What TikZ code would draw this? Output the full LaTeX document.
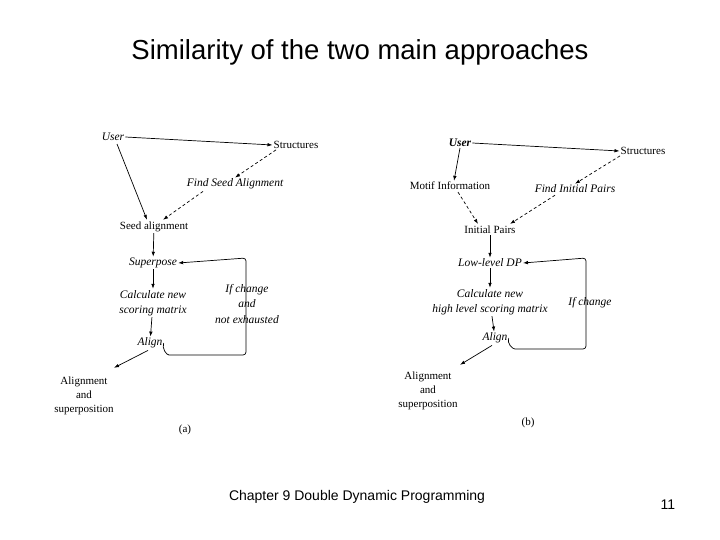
\documentclass[tikz,border=0pt]{standalone}
\usepackage{fontspec}
\setmainfont{Liberation Serif}
\newfontfamily\arialf{Liberation Sans}
\usetikzlibrary{arrows.meta,calc}
\begin{document}
\begin{tikzpicture}[x=1pt,y=-1pt,
  lbl/.style={font=\fontsize{11}{14}\selectfont, inner sep=1pt, align=center},
  ilbl/.style={lbl, font=\fontsize{11.5}{15.5}\selectfont\itshape},
  arr/.style={draw, line width=0.7pt, -{Latex[length=5pt,width=3.5pt]}},
  darr/.style={arr, dash pattern=on 3pt off 2.5pt},
  loopl/.style={draw, line width=0.7pt, rounded corners=3pt}]
\useasboundingbox (0,0) rectangle (720,540);
\node[font=\arialf\fontsize{27.5}{30}\selectfont] (title) at (360,52) {Similarity of the two main approaches};

% ---------- panel (a)
\node[ilbl] (aU) at (113,137) {User};
\node[lbl] (aS) at (296,145) {Structures};
\node[ilbl] (aF) at (235,184) {Find Seed Alignment};
\node[lbl] (aSA) at (154,227) {Seed alignment};
\node[ilbl] (aSP) at (153,263) {Superpose};
\node[ilbl] (aC) at (153,303) {Calculate new\\scoring matrix};
\node[ilbl] (aA) at (150,343) {Align};
\node[ilbl] (aIf) at (247,304) {If change\\and\\not exhausted};
\node[lbl] (aR) at (84,396) {Alignment\\and\\superposition};
\node[lbl] (aLab) at (185,430) {(a)};
\coordinate (aL0) at (172,355);
\coordinate (aL1) at (246,355);
\coordinate (aL2) at (246,258);

\draw[arr] (aU.east) -- (aS.west);
\draw[arr] ($(aU.south)+(4,2)$) -- ($(aSA.north)+(-7,-1)$);
\draw[darr] ($(aS.south)+(-20,0)$) -- (aF.north);
\draw[darr] ($(aF.south)+(-32,1)$) -- ($(aSA.north)+(9,-1)$);
\draw[arr] (aSA) -- (aSP);
\draw[arr] (aSP) -- (aC);
\draw[arr] (aC) -- (aA);
\draw[loopl, -{Latex[length=5pt,width=3.5pt]}] (aA.east) to[out=-110,in=180] (aL0) -- (aL1) -- (aL2) -- (aSP.east);
\draw[arr] ($(aA.south)+(-2,1)$) -- ($(aR.north)+(30,-8)$);

% ---------- panel (b)
\node[ilbl, font=\fontsize{11.5}{15}\selectfont\itshape\bfseries] (bU) at (460,143) {User};
\node[lbl] (bS) at (643,151) {Structures};
\node[lbl] (bM) at (450,186) {Motif Information};
\node[ilbl] (bF) at (575,189) {Find Initial Pairs};
\node[lbl] (bI) at (490,230) {Initial Pairs};
\node[ilbl] (bD) at (490,263) {Low-level DP};
\node[ilbl] (bC) at (490,302) {Calculate new\\high level scoring matrix};
\node[ilbl] (bA) at (495,338) {Align};
\node[ilbl] (bIf) at (590,303) {If change};
\node[lbl] (bR) at (428,391) {Alignment\\and\\superposition};
\node[lbl] (bLab) at (528,423) {(b)};
\coordinate (bL0) at (518,349);
\coordinate (bL1) at (586,349);
\coordinate (bL2) at (586,258);

\draw[arr] (bU.east) -- (bS.west);
\draw[arr] (bU.south) -- ($(bM.north)+(4,0)$);
\draw[darr] ($(bS.south)+(-23,0)$) -- (bF.north);
\draw[darr] ($(bF.south)+(-20,1)$) -- ($(bI.north)+(20,-1)$);
\draw[darr] ($(bM.south)+(8,1)$) -- ($(bI.north)+(-12,-1)$);
\draw[arr] (bI) -- (bD);
\draw[arr] (bD) -- (bC);
\draw[arr] (bC) -- (bA);
\draw[loopl, -{Latex[length=5pt,width=3.5pt]}] (bA.east) to[out=-110,in=180] (bL0) -- (bL1) -- (bL2) -- (bD.east);
\draw[arr] ($(bA.south)+(-3,1)$) -- ($(bR.north)+(32,-6)$);

% ---------- footer
\node[font=\arialf\fontsize{14}{16}\selectfont] (foot) at (357,497) {Chapter 9 Double Dynamic Programming};
\node[font=\arialf\fontsize{14}{16}\selectfont] (pg) at (668,505) {11};
\end{tikzpicture}
\end{document}
